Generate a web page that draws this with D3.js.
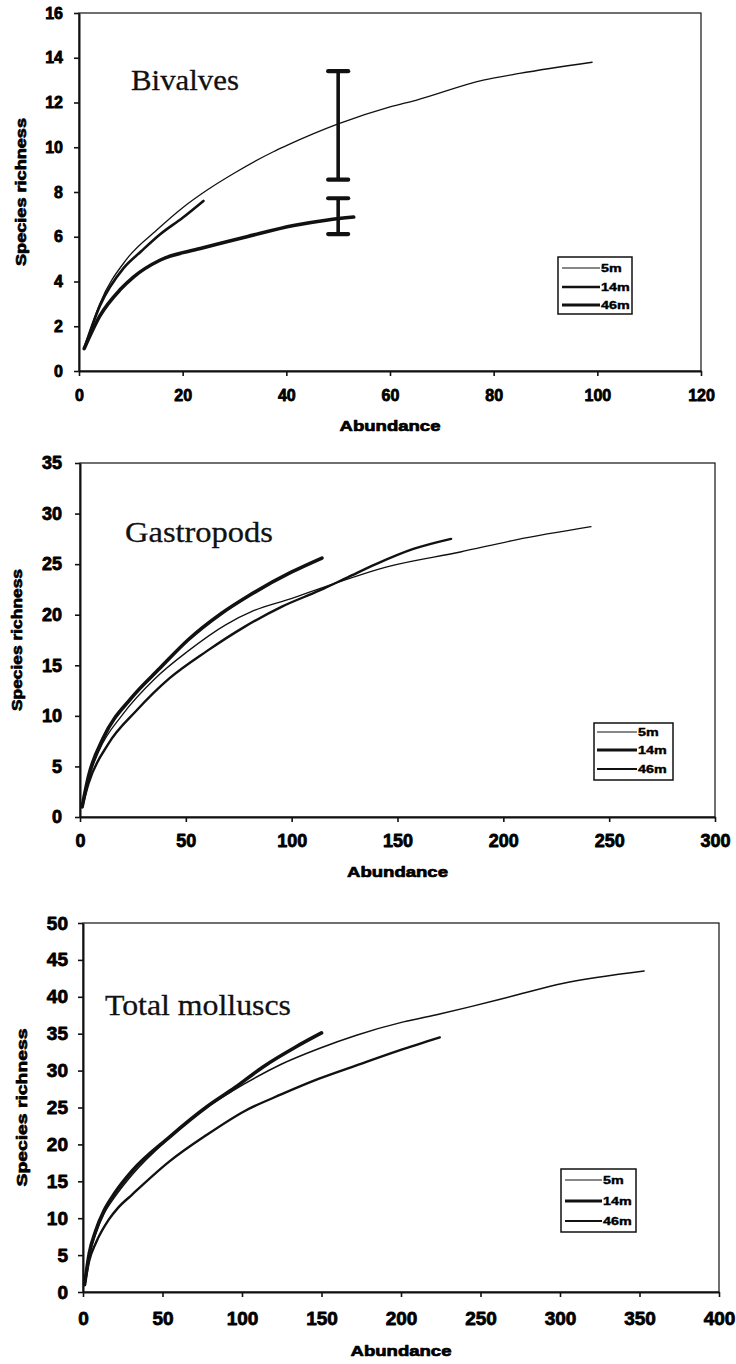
<!DOCTYPE html>
<html><head><meta charset="utf-8">
<script src="https://cdn.jsdelivr.net/npm/d3@7/dist/d3.min.js"></script>
<style>body{margin:0;background:#fff}svg{display:block}</style>
</head><body>
<svg id="c" width="736" height="1364"></svg>
<script>
// ---------- DATA ----------
const seriesNames = ["5m", "14m", "46m"];

// Bivalves: [abundance, species richness]
const biv5m  = [[1,1],[4,3.0],[9.2,5.0],[15,6.3],[20,7.3],[24.8,8.1],[30,8.85],[37.5,9.8],[40,10.07],[50,11.04],[60,11.8],[65,12.1],[78,13.0],[85,13.3],[99,13.8]];
const biv14m = [[1,1],[4,2.9],[8.6,4.6],[12,5.35],[15.6,6.1],[20,6.85],[24,7.6]];
const biv46m = [[1,1],[4,2.45],[8,3.65],[10.5,4.2],[15.6,4.95],[23.4,5.47],[32.4,6.0],[41.4,6.5],[48,6.75],[53,6.88]];
const bivErrorBars = [{x:50, lo:8.55, hi:13.4}, {x:50, lo:6.12, hi:7.72}];
const bivXTicks = [0,20,40,60,80,100,120];
const bivYTicks = [0,2,4,6,8,10,12,14,16];

// Gastropods
const gas5m  = [[1,1],[3,3],[8.9,6.5],[20,10.1],[35.5,13.7],[51,16.4],[68.8,19.0],[82,20.4],[99.8,21.6],[117.6,22.9],[146.4,24.8],[179.7,26.2],[206,27.4],[241.4,28.7]];
const gas14m = [[1,1],[4,4],[11.1,7.85],[24.4,11.8],[37.7,14.7],[51,17.5],[66.6,20.1],[79.9,21.9],[99.8,24.2],[114.3,25.6]];
const gas46m = [[1,1],[4,3.3],[13.3,7.2],[26.6,10.5],[42.2,13.7],[59.9,16.4],[77.7,18.8],[95.4,20.8],[113.2,22.4],[126.5,23.7],[139.8,25.0],[157.5,26.5],[175.3,27.5]];
const gasXTicks = [0,50,100,150,200,250,300];
const gasYTicks = [0,5,10,15,20,25,30,35];

// Total molluscs
const tot5m  = [[1,1],[4,5.0],[8,7.9],[13.2,10.6],[20,12.9],[30.9,15.9],[54.4,20.9],[77.9,25],[101.5,28.2],[125,30.9],[148.5,33],[172,34.8],[201.5,36.6],[225,37.7],[242.6,38.6],[272,40.2],[301.5,41.8],[352.9,43.5]];
const tot14m = [[1,1],[4,5.3],[8,8.3],[13.2,11.0],[20,13.4],[30.9,16.4],[54.4,21.0],[77.9,25.1],[95.6,27.7],[113.2,30.5],[133.8,33.2],[150,35.1]];
const tot46m = [[1,1],[4,4.3],[8,6.6],[16.2,9.8],[22,11.4],[30.9,13.2],[54.4,17.7],[77.9,21.3],[101.5,24.5],[125,26.8],[148.5,28.9],[172,30.7],[198.5,32.7],[224.4,34.5]];
const totXTicks = [0,50,100,150,200,250,300,350,400];
const totYTicks = [0,5,10,15,20,25,30,35,40,45,50];

const titles = ["Bivalves", "Gastropods", "Total molluscs"];
const xTitle = "Abundance";
const yTitle = "Species richness";

// ---------- LAYOUT ----------
const panels = [
  {title:titles[0], series:[biv5m,biv14m,biv46m], widths:[1.3,2.6,3.6], legendW:[1,2.4,3.2],
   xt:bivXTicks, yt:bivYTicks, errs:bivErrorBars, fs:16,
   L:79, R:701, T:13, B:371, ypad:11, xpad:14,
   titleX:131, titleY:90, titleLen:108,
   yTitleX:21, yTitleLen:148, xTitleY:425,
   leg:{x:558, y:257, w:74, h:57, rows:[268,287,305], lx0:562, lx1:600}},
  {title:titles[1], series:[gas5m,gas14m,gas46m], widths:[1.3,3.6,2.4], legendW:[1,3,2],
   xt:gasXTicks, yt:gasYTicks, errs:[], fs:18,
   L:80, R:715, T:463, B:817, ypad:13, xpad:14,
   titleX:125, titleY:542, titleLen:148,
   yTitleX:17, yTitleLen:142, xTitleY:871,
   leg:{x:594, y:723, w:79, h:57, rows:[732,750,769], lx0:597, lx1:637}},
  {title:titles[2], series:[tot5m,tot14m,tot46m], widths:[1.5,3.6,2.4], legendW:[1,3,2],
   xt:totXTicks, yt:totYTicks, errs:[], fs:19,
   L:83, R:719, T:923, B:1292, ypad:10, xpad:16,
   titleX:105, titleY:1015, titleLen:186,
   yTitleX:22, yTitleLen:158, xTitleY:1350,
   leg:{x:561, y:1169, w:75, h:63, rows:[1180,1201,1221], lx0:565, lx1:602}}
];

const svg = d3.select("#c");
const sans = "'Liberation Sans', Arial, sans-serif";
const serif = "'Liberation Serif', 'Times New Roman', serif";

panels.forEach(p => {
  const x = d3.scaleLinear().domain([0, d3.max(p.xt)]).range([p.L, p.R]);
  const y = d3.scaleLinear().domain([0, d3.max(p.yt)]).range([p.B, p.T]);
  const g = svg.append("g");

  // frame (top & right)
  g.append("rect").attr("x", p.L).attr("y", p.T).attr("width", p.R - p.L).attr("height", p.B - p.T)
    .attr("fill", "none").attr("stroke", "#111").attr("stroke-width", 1.2);

  // axes
  const ya = g.append("g").attr("transform", `translate(${p.L},0)`)
    .call(d3.axisLeft(y).tickValues(p.yt).tickSize(5).tickSizeOuter(0).tickPadding(p.ypad));
  const xa = g.append("g").attr("transform", `translate(0,${p.B})`)
    .call(d3.axisBottom(x).tickValues(p.xt).tickSize(5).tickSizeOuter(0).tickPadding(p.xpad));
  [ya, xa].forEach(a => {
    a.select(".domain").attr("stroke", "#111").attr("stroke-width", 2);
    a.selectAll(".tick line").attr("stroke", "#111").attr("stroke-width", 1.6);
    a.selectAll(".tick text").attr("fill", "#000").attr("font-family", sans)
      .attr("font-weight", "bold").attr("font-size", p.fs)
      .attr("stroke", "#000").attr("stroke-width", 0.8).attr("stroke-linejoin", "round");
  });
  xa.selectAll(".tick text").attr("dy", null).attr("y", 24 + (p.xpad - 14)).attr("dominant-baseline", "central");

  // curves
  const line = d3.line().x(d => x(d[0])).y(d => y(d[1])).curve(d3.curveMonotoneX);
  p.series.forEach((s, i) => {
    g.append("path").datum(s).attr("d", line).attr("fill", "none")
      .attr("stroke", "#111").attr("stroke-width", p.widths[i])
      .attr("stroke-linecap", "round").attr("stroke-linejoin", "round");
  });

  // error bars
  p.errs.forEach(e => {
    g.append("line").attr("x1", x(e.x)).attr("x2", x(e.x)).attr("y1", y(e.lo)).attr("y2", y(e.hi))
      .attr("stroke", "#111").attr("stroke-width", 3.6);
    [e.lo, e.hi].forEach(v => {
      g.append("line").attr("x1", x(e.x) - 10).attr("x2", x(e.x) + 10).attr("y1", y(v)).attr("y2", y(v))
        .attr("stroke", "#111").attr("stroke-width", 4.2).attr("stroke-linecap", "round");
    });
  });

  // panel title
  g.append("text").attr("x", p.titleX).attr("y", p.titleY).text(p.title)
    .attr("font-family", serif).attr("font-size", 30).attr("fill", "#111")
    .attr("stroke", "#111").attr("stroke-width", 0.3)
    .attr("textLength", p.titleLen).attr("lengthAdjust", "spacingAndGlyphs");

  // axis titles
  g.append("text").attr("transform", `translate(${p.yTitleX},${(p.T + p.B) / 2}) rotate(-90)`)
    .attr("text-anchor", "middle").attr("dominant-baseline", "central")
    .attr("font-family", sans).attr("font-weight", "bold").attr("font-size", 14)
    .attr("stroke", "#000").attr("stroke-width", 0.7).attr("stroke-linejoin", "round")
    .attr("textLength", p.yTitleLen).attr("lengthAdjust", "spacingAndGlyphs").text(yTitle);
  g.append("text").attr("x", (p.L + p.R) / 2).attr("y", p.xTitleY)
    .attr("text-anchor", "middle").attr("dominant-baseline", "central")
    .attr("font-family", sans).attr("font-weight", "bold").attr("font-size", 15)
    .attr("stroke", "#000").attr("stroke-width", 0.7).attr("stroke-linejoin", "round")
    .attr("textLength", 101).attr("lengthAdjust", "spacingAndGlyphs").text(xTitle);

  // legend
  const lg = p.leg;
  g.append("rect").attr("x", lg.x).attr("y", lg.y).attr("width", lg.w).attr("height", lg.h)
    .attr("fill", "#fff").attr("stroke", "#111").attr("stroke-width", 1.5);
  seriesNames.forEach((n, i) => {
    g.append("line").attr("x1", lg.lx0).attr("x2", lg.lx1).attr("y1", lg.rows[i]).attr("y2", lg.rows[i])
      .attr("stroke", "#111").attr("stroke-width", p.legendW[i]);
    const t = g.append("text").attr("x", lg.lx1 + 1).attr("y", lg.rows[i]).attr("dominant-baseline", "central")
      .attr("font-family", sans).attr("font-weight", "bold").attr("font-size", 11).attr("fill", "#000")
      .attr("stroke", "#000").attr("stroke-width", 0.4).text(n);
    const len = t.node().getComputedTextLength();
    t.attr("textLength", len * 1.3).attr("lengthAdjust", "spacingAndGlyphs");
  });
});
</script>
</body></html>
